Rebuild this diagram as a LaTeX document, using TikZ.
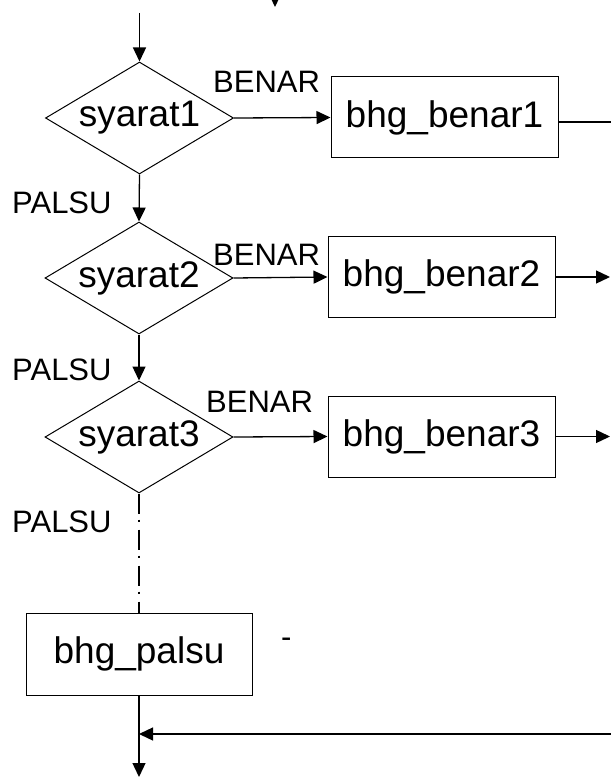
\documentclass[tikz,border=0pt]{standalone}
\usepackage{fontspec}
\setmainfont{Liberation Sans}
\usetikzlibrary{shapes.geometric,arrows.meta}
\begin{document}
\begin{tikzpicture}[x=1pt,y=-1pt,
  dec/.style={diamond,draw,line width=1pt,minimum width=188pt,minimum height=112pt,inner sep=0pt,aspect=1.68,font=\fontsize{37}{40}\selectfont},
  proc/.style={rectangle,draw,line width=1pt,minimum width=227pt,minimum height=81pt,inner sep=0pt,font=\fontsize{37}{40}\selectfont},
  lbl/.style={anchor=base west,inner sep=0pt,font=\fontsize{31}{34}\selectfont},
  flow/.style={line width=1.3pt,-{Triangle[length=14pt,width=13pt]}},
  plain/.style={line width=1.3pt},
  dd/.style={line width=1.3pt,dash pattern=on 20pt off 6pt on 2pt off 8pt}]
\useasboundingbox (0,0) rectangle (610,778);
\node[dec] (d1) at (139.5,118) {syarat1};
\node[dec] (d2) at (139,278) {syarat2};
\node[dec] (d3) at (139,437) {syarat3};
\node[proc] (b1) at (444.5,117.5) {bhg\_benar1};
\node[proc] (b2) at (441.5,277) {bhg\_benar2};
\node[proc] (b3) at (441.5,436.5) {bhg\_benar3};
\node[proc,minimum width=226pt,minimum height=82pt] (bp) at (139,654) {bhg\_palsu};
\coordinate (top) at (139.5,13);
\coordinate (t2a) at (275,-20);
\coordinate (t2b) at (275,7);
\coordinate (r1) at (612,122);
\coordinate (r2) at (610,277);
\coordinate (r3) at (610,436.5);
\coordinate (rb) at (612,734);
\coordinate (j) at (139,734);
\coordinate (bot) at (139,777);
\draw[flow] (t2a) -- (t2b);
\draw[flow] (top) -- (d1.north);
\draw[flow] (d1.south) -- (d2.north);
\draw[flow] (d2.south) -- (d3.north);
\draw[dd] (d3.south) -- (bp.north);
\draw[flow] (d1.east) -- (b1.west);
\draw[flow] (d2.east) -- (b2.west);
\draw[flow] (d3.east) -- (b3.west);
\draw[plain] (b1.east |- r1) -- (r1);
\draw[flow] (b2.east) -- (r2);
\draw[flow] (b3.east) -- (r3);
\draw[flow] (bp.south) -- (bot);
\draw[flow] (rb) -- (j);
\node[lbl] (L1) at (213,93) {BENAR};
\node[lbl] (L2) at (213,265) {BENAR};
\node[lbl] (L3) at (206,412) {BENAR};
\node[lbl] (P1) at (12,213) {PALSU};
\node[lbl] (P2) at (12,380) {PALSU};
\node[lbl] (P3) at (12,532) {PALSU};
\node[lbl] (hy) at (281,647) {-};
\end{tikzpicture}
\end{document}
